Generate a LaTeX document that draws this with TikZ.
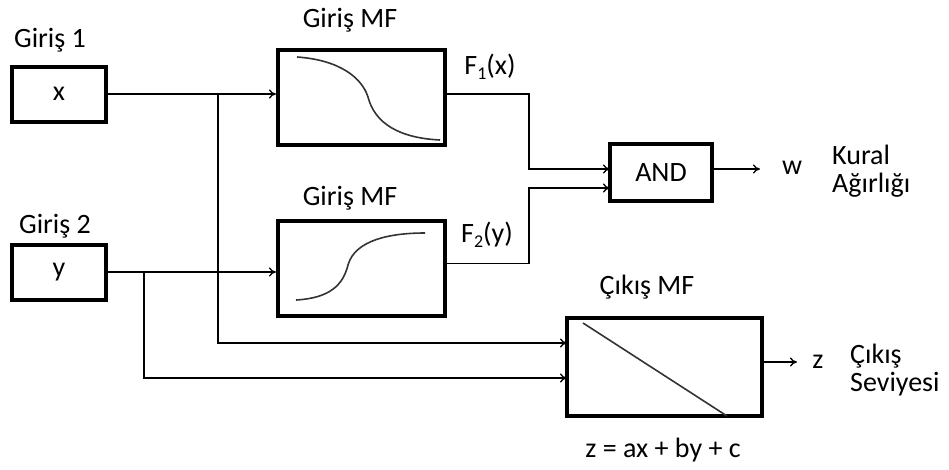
\documentclass[tikz,border=0pt]{standalone}
\usepackage{fontspec}
\setmainfont{Carlito}
\usepackage{tikz}
\usetikzlibrary{arrows.meta, positioning, calc}
\newcommand{\subnum}[1]{\raisebox{-0.35ex}{\fontsize{18}{18}\selectfont #1}}

\begin{document}
\begin{tikzpicture}[
  x=1pt, y=-1pt,
  every node/.style={font=\fontsize{28}{32}\selectfont},
  inbox/.style={rectangle, draw, line width=4pt, minimum width=94pt,
                minimum height=55pt, align=center},
  mfbox/.style={rectangle, draw, line width=4pt, minimum width=167pt,
                minimum height=95pt},
  lbl/.style={inner sep=0pt},
  arrow/.style={-{To[length=7pt,width=9pt]}, line width=1.3pt},
  curve/.style={line width=1.6pt, color=black!80},
]
\useasboundingbox (0,0) rectangle (949,469);

% ── Inputs ──
\node[inbox] (xin) at (59,94)  {x};
\node[inbox] (yin) at (59,272) {y};
\node[lbl] (gx) at (50,40)  {Giriş 1};
\node[lbl] (gy) at (55,226) {Giriş 2};

% ── Input MFs ──
\node[mfbox] (mf1) at (361.5,97.5)  {};
\node[mfbox] (mf2) at (361.5,268.5) {};
\node[lbl] (t1) at (350,20)  {Giriş MF};
\node[lbl] (t2) at (350,198) {Giriş MF};
\draw[curve] (297,57) .. controls (340,60) and (362,78) .. (368,97)
             .. controls (375,124) and (400,138) .. (440,140);
\draw[curve] (296,300) .. controls (330,298) and (343,285) .. (348,265)
             .. controls (355,240) and (390,233) .. (425,233);
\node[lbl] (f1) at (490,67)  {F\subnum{1}(x)};
\node[lbl] (f2) at (487,235) {F\subnum{2}(y)};

% ── Rule ──
\node[inbox, minimum width=102pt, minimum height=57pt] (andb) at (661,172.5) {AND};
\node[lbl] (w) at (792,168) {w};
\node[lbl, align=left, anchor=west] (kural) at (832,171) {Kural\\[-4pt]Ağırlığı};

% ── Output MF ──
\node[inbox, minimum width=195pt, minimum height=98pt] (outmf) at (664.5,367) {};
\node[lbl] (t3) at (647,287) {Çıkış MF};
\draw[curve] (583,323) -- (727,416);
\node[lbl] (z) at (818,362) {z};
\node[lbl, align=left, anchor=west] (cikis) at (850,370) {Çıkış\\[-4pt]Seviyesi};
\node[lbl] (eq) at (663,450) {z = ax + by + c};

% ── Connectors ──
\coordinate (bx) at (218,94);
\coordinate (by) at (144,273);
\coordinate (a1) at (610,169);
\coordinate (a2) at (610,188);
\coordinate (o1) at (567,343);
\coordinate (o2) at (567,378);
\draw[arrow] (xin) -- (xin -| mf1.west);
\draw[arrow] (yin) -- (yin -| mf2.west);
\draw[arrow] (bx) |- (o1);
\draw[arrow] (by) |- (o2);
\draw[arrow] (mf1.east |- xin) -- ++(82,0) |- (a1);
\draw[arrow] ($(mf2.east)+(0,-5)$) -- ++(82,0) |- (a2);
\draw[arrow] (andb.east |- a1) -- ++(46,0);
\draw[arrow] ($(outmf.east)+(0,-5)$) -- ++(33,0);

\end{tikzpicture}
\end{document}
